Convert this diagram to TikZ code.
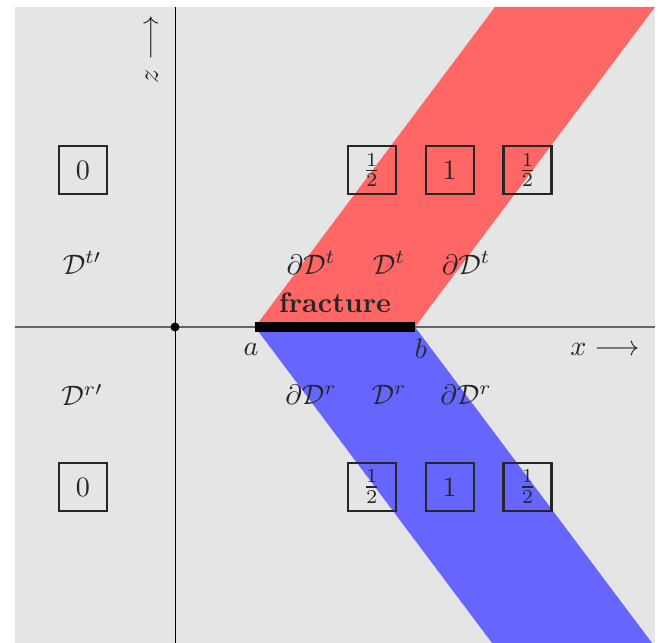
\documentclass[tikz,border=0pt]{standalone}
\usepackage{amsmath,amssymb}
\usepackage{xcolor}
\usepackage{tikz}
\usetikzlibrary{positioning,calc}

\begin{document}
\begin{tikzpicture}[
  lbl/.style={text=black!85, inner sep=1pt},
  cell/.style={draw=black!85, line width=0.8pt, minimum size=0.6cm, inner sep=0pt, text=black!85},
  node distance=3.45mm,
]
\useasboundingbox (-2.1875,-3.95) rectangle (6.0625,4.0875);
\fill[black!10] (-2,-3.95) rectangle (6,4);

% transmitted and reflected zones
\fill[red!60] (1,0) -- (3,0) -- (6,4) -- (4,4) -- cycle;
\fill[blue!60] (1,0) -- (3,0) -- (5.9625,-3.95) -- (3.9625,-3.95) -- cycle;

% axes
\coordinate (W) at (-2,0);
\coordinate (E) at (6,0);
\coordinate (S) at (0,-3.95);
\coordinate (N) at (0,4);
\draw[black!60, line width=0.7pt] (W) -- (E);
\draw[line width=0.3pt] (S) -- (N);
\node[circle, fill, inner sep=0pt, minimum size=3.2pt] (O) at (0,0) {};
\node[lbl] (xl) at (5.375,-0.275) {$x \longrightarrow$};
\node[lbl, rotate=90] (zl) at (-0.29,3.47) {$z \longrightarrow$};

% fracture
\coordinate (a) at (1,0);
\coordinate (b) at (3,0);
\draw[line width=3.5pt] (a) -- (b);
\node[lbl] (al) at (0.95,-0.275) {$a$};
\node[lbl] (bl) at (3.075,-0.275) {$b$};
\node[lbl, font=\bfseries] (fr) at (2,0.3) {fracture};

% weights
\node[cell] (t0) at (-1.15,1.96) {$0$};
\node[cell] (t1) at (2.46,1.96) {$\frac12$};
\node[cell, right=of t1] (t2) {$1$};
\node[cell, right=of t2] (t3) {$\frac12$};
\node[cell] (r0) at (-1.15,-2) {$0$};
\node[cell] (r1) at (2.46,-2) {$\frac12$};
\node[cell, right=of r1] (r2) {$1$};
\node[cell, right=of r2] (r3) {$\frac12$};

% domains
\node[lbl] (Dtp) at (-1.16,0.8) {$\mathcal{D}^{t\prime}$};
\node[lbl] (Drp) at (-1.16,-0.85) {$\mathcal{D}^{r\prime}$};
\foreach \s/\y in {t/0.8, r/-0.85} {
  \node[lbl] (dD\s l) at (1.7,\y) {$\partial\mathcal{D}^{\s}$};
  \node[lbl] (D\s) at (2.675,\y) {$\mathcal{D}^{\s}$};
  \node[lbl] (dD\s r) at (3.64,\y) {$\partial\mathcal{D}^{\s}$};
}
\end{tikzpicture}
\end{document}
